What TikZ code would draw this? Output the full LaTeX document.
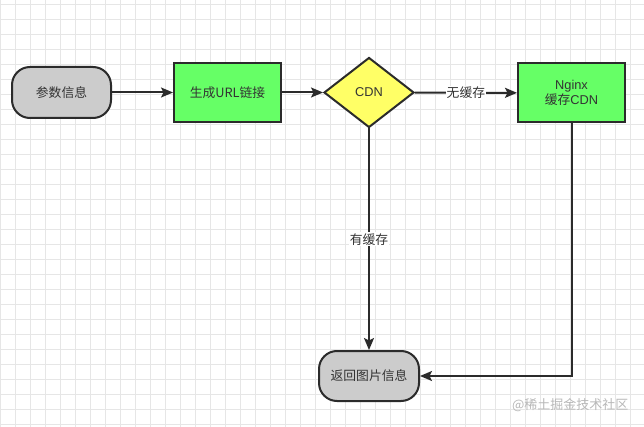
\documentclass[tikz,border=0pt]{standalone}
\usepackage{fontspec}
\setmainfont{Liberation Sans}
\newfontfamily\cjk{Noto Sans CJK SC}
\usetikzlibrary{arrows.meta,shapes.geometric}
\definecolor{gridc}{HTML}{E6E6E6}
\definecolor{linec}{HTML}{2B2B2B}
\definecolor{grayfill}{HTML}{CCCCCC}
\definecolor{greenfill}{HTML}{66FF66}
\definecolor{yellowfill}{HTML}{FFFF66}
\definecolor{wmark}{HTML}{B8B8B8}
\tikzset{
  base/.style={draw=linec, line width=2pt, font=\fontsize{12.8pt}{15pt}\selectfont, text=black!80, align=center},
  terminal/.style={base, fill=grayfill, rounded corners=18pt, minimum width=99pt, minimum height=51pt, inner sep=0pt},
  procbox/.style={base, fill=greenfill, minimum width=107pt, minimum height=59pt, inner sep=0pt},
  decision/.style={base, diamond, fill=yellowfill, inner sep=0pt, aspect=1.3},
  conn/.style={draw=linec, line width=2pt, -{Stealth[length=12pt,width=10pt,inset=2.5pt]}},
  elabel/.style={fill=white, font=\fontsize{12.8pt}{15pt}\selectfont, text=black!80, inner sep=1pt}
}
\begin{document}
\begin{tikzpicture}[x=1pt,y=-1pt]
\useasboundingbox (0,0) rectangle (644,427);
\fill[white] (0,0) rectangle (644,427);
\foreach \i in {0,...,43} \draw[gridc, line width=0.6pt] (\i*15,0) -- (\i*15,427);
\foreach \j in {0,...,28} \draw[gridc, line width=0.6pt] (0,4+\j*15) -- (644,4+\j*15);

\node[terminal] (info) at (61.5,92.5) {\cjk 参数信息};
\node[procbox] (url) at (227.5,92.5) {\cjk 生成URL链接};
\node[decision, minimum width=90pt, minimum height=70pt] (cdn) at (369,92.5) {CDN};
\node[procbox] (nginx) at (571.5,93) {Nginx\\{\cjk 缓存}CDN};
\node[terminal, minimum width=100pt, minimum height=50pt] (ret) at (369,376) {\cjk 返回图片信息};

\draw[conn] (info) -- (url);
\draw[conn] (url) -- (cdn);
\draw[conn] (cdn) -- node[elabel] (lab1) {\cjk 无缓存} (nginx);
\draw[conn] (cdn) -- node[elabel] (lab2) {\cjk 有缓存} (ret);
\draw[conn] (nginx.south) |- (ret.east);

\node[text=wmark, font=\cjk\fontsize{13pt}{15pt}\selectfont, anchor=east] (wm) at (632,405) {@稀土掘金技术社区};
\end{tikzpicture}
\end{document}
